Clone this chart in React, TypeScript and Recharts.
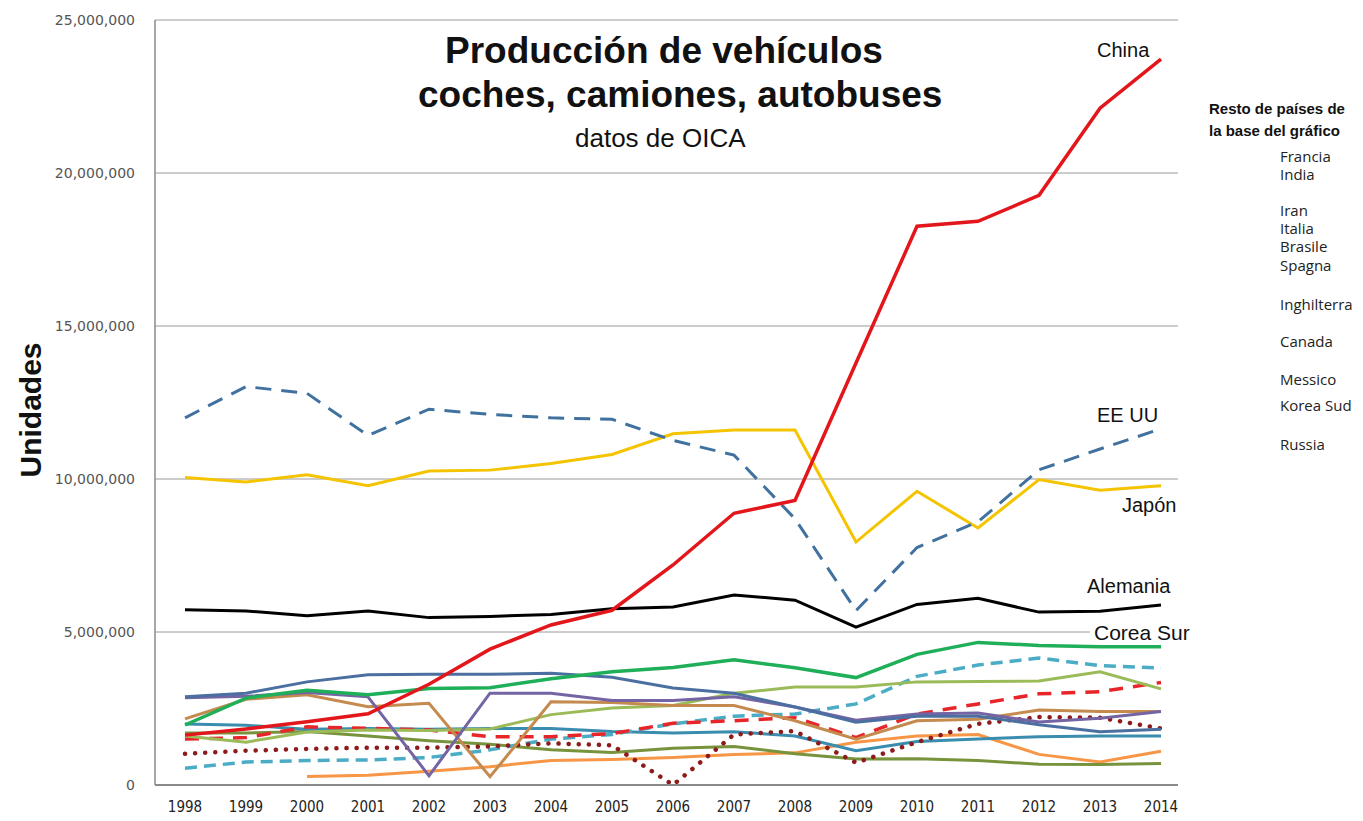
import { LineChart, Line, XAxis, YAxis, CartesianGrid } from "recharts";

// values in millions of units
const years = ["1998", "1999", "2000", "2001", "2002", "2003", "2004", "2005", "2006", "2007", "2008", "2009", "2010", "2011", "2012", "2013", "2014"];

const china = [1.63, 1.83, 2.07, 2.33, 3.29, 4.44, 5.23, 5.71, 7.19, 8.88, 9.3, 13.79, 18.26, 18.42, 19.27, 22.12, 23.72];
const eeuu = [12.0, 13.02, 12.8, 11.42, 12.28, 12.11, 12.0, 11.95, 11.26, 10.78, 8.7, 5.7, 7.76, 8.6, 10.3, 10.98, 11.64];
const japon = [10.05, 9.9, 10.14, 9.78, 10.26, 10.29, 10.51, 10.8, 11.48, 11.6, 11.6, 7.94, 9.6, 8.4, 9.98, 9.63, 9.78];
const alemania = [5.73, 5.69, 5.53, 5.69, 5.47, 5.51, 5.57, 5.76, 5.82, 6.21, 6.04, 5.16, 5.9, 6.1, 5.65, 5.68, 5.88];
const coreaSur = [1.96, 2.84, 3.1, 2.95, 3.15, 3.18, 3.47, 3.7, 3.84, 4.09, 3.83, 3.51, 4.27, 4.66, 4.56, 4.52, 4.52];

const francia = [2.88, 3.0, 3.37, 3.6, 3.62, 3.62, 3.65, 3.52, 3.17, 3.0, 2.55, 2.05, 2.25, 2.25, 1.97, 1.74, 1.82];
const spagna = [2.85, 2.9, 3.02, 2.88, 0.3, 3.0, 3.0, 2.76, 2.76, 2.88, 2.55, 2.12, 2.32, 2.35, 2.06, 2.18, 2.4];
const canada = [2.16, 2.8, 2.95, 2.56, 2.67, 0.27, 2.72, 2.7, 2.6, 2.6, 2.1, 1.5, 2.1, 2.15, 2.45, 2.4, 2.4];
const brasile = [1.6, 1.4, 1.73, 1.8, 1.78, 1.83, 2.3, 2.52, 2.6, 3.0, 3.2, 3.2, 3.37, 3.38, 3.4, 3.7, 3.14];
const italia = [1.7, 1.7, 1.75, 1.6, 1.45, 1.33, 1.15, 1.06, 1.2, 1.26, 1.02, 0.85, 0.86, 0.8, 0.68, 0.67, 0.7];
const inghilterra = [1.99, 1.95, 1.82, 1.85, 1.82, 1.85, 1.85, 1.75, 1.7, 1.74, 1.6, 1.12, 1.42, 1.5, 1.58, 1.6, 1.6];
const messico = [1.5, 1.55, 1.9, 1.85, 1.8, 1.58, 1.58, 1.68, 2.02, 2.1, 2.2, 1.55, 2.32, 2.65, 2.98, 3.05, 3.35];
const russia = [1.02, 1.12, 1.18, 1.22, 1.22, 1.26, 1.36, 1.3, 0.0, 1.65, 1.76, 0.73, 1.4, 2.0, 2.22, 2.2, 1.85];
const india = [0.55, 0.75, 0.8, 0.82, 0.9, 1.15, 1.5, 1.65, 2.0, 2.25, 2.32, 2.65, 3.55, 3.92, 4.15, 3.9, 3.82];
const iran = [null, null, 0.28, 0.32, 0.45, 0.6, 0.8, 0.83, 0.9, 1.0, 1.05, 1.4, 1.6, 1.65, 1.0, 0.75, 1.1];

const yTicks = [0, 5, 10, 15, 20, 25];

const restoLabels = ["Francia", "India", "Iran", "Italia", "Brasile", "Spagna", "Inghilterra", "Canada", "Messico", "Korea Sud", "Russia"];
const restoY = [156, 174, 210, 228, 246, 265, 304, 341, 379, 405, 444];

const data = years.map((year, i) => ({
  year,
  china: china[i],
  eeuu: eeuu[i],
  japon: japon[i],
  alemania: alemania[i],
  coreaSur: coreaSur[i],
  francia: francia[i],
  spagna: spagna[i],
  canada: canada[i],
  brasile: brasile[i],
  italia: italia[i],
  inghilterra: inghilterra[i],
  messico: messico[i],
  russia: russia[i],
  india: india[i],
  iran: iran[i],
}));

const arial = "'Liberation Sans', Arial, sans-serif";

const Label = ({ text, x, y, size, bold, bg }: any) => (
  <div
    style={{
      position: "absolute",
      left: x,
      top: y - size / 2,
      fontFamily: arial,
      fontSize: size,
      lineHeight: `${size}px`,
      fontWeight: bold ? 700 : 400,
      color: "#111",
      whiteSpace: "nowrap",
      background: bg ? "#fff" : "transparent",
      paddingLeft: bg ? 4 : 0,
    }}
  >
    {text}
  </div>
);

export default function App() {
  return (
    <div
      style={{
        position: "absolute",
        left: 0,
        top: 0,
        width: 1363,
        height: 821,
        background: "#fff",
        overflow: "hidden",
      }}
    >
      <LineChart
        width={1363}
        height={821}
        data={data}
        margin={{ top: 20, right: 185, bottom: 6, left: 55 }}
      >
        <CartesianGrid vertical={false} stroke="#9a9a9a" strokeWidth={1} />
        <XAxis
          dataKey="year"
          padding={{ left: 30, right: 17 }}
          axisLine={{ stroke: "#8a8a8a", strokeWidth: 2 }}
          tickLine={false}
          tickSize={0}
          tickMargin={16}
          tick={{
            fill: "#222",
            fontSize: 15,
            fontFamily: "'Liberation Sans Narrow', 'DejaVu Sans Condensed', 'Liberation Sans', sans-serif",
          }}
          interval={0}
        />
        <YAxis
          width={100}
          domain={[0, 25]}
          ticks={yTicks}
          axisLine={{ stroke: "#8a8a8a", strokeWidth: 1.5 }}
          tickLine={false}
          tickSize={0}
          tickMargin={20}
          tick={{ fill: "#555", fontSize: 14, fontFamily: "'DejaVu Sans', Verdana, sans-serif" }}
          tickFormatter={(v: number) => (v * 1000000).toLocaleString("en-US")}
        />
        <Line dataKey="iran" stroke="#F79646" strokeWidth={3} dot={false} isAnimationActive={false} />
        <Line dataKey="italia" stroke="#77933C" strokeWidth={3} dot={false} isAnimationActive={false} />
        <Line dataKey="inghilterra" stroke="#3A8DAE" strokeWidth={3} dot={false} isAnimationActive={false} />
        <Line dataKey="india" stroke="#4BACC6" strokeWidth={3.5} strokeDasharray="12 7" dot={false} isAnimationActive={false} />
        <Line dataKey="russia" stroke="#8E1B1B" strokeWidth={4.5} strokeDasharray="0.1 10" strokeLinecap="round" dot={false} isAnimationActive={false} />
        <Line dataKey="messico" stroke="#E8262A" strokeWidth={3.5} strokeDasharray="14 10" dot={false} isAnimationActive={false} />
        <Line dataKey="brasile" stroke="#9BBB59" strokeWidth={3} dot={false} isAnimationActive={false} />
        <Line dataKey="canada" stroke="#C48A4E" strokeWidth={3} dot={false} isAnimationActive={false} />
        <Line dataKey="spagna" stroke="#7464A4" strokeWidth={3} dot={false} isAnimationActive={false} />
        <Line dataKey="francia" stroke="#4A6FA0" strokeWidth={3} dot={false} isAnimationActive={false} />
        <Line dataKey="coreaSur" stroke="#1FAF58" strokeWidth={3.5} dot={false} isAnimationActive={false} />
        <Line dataKey="alemania" stroke="#000" strokeWidth={3} dot={false} isAnimationActive={false} />
        <Line dataKey="japon" stroke="#F5C400" strokeWidth={3} dot={false} isAnimationActive={false} />
        <Line dataKey="eeuu" stroke="#41729F" strokeWidth={3} strokeDasharray="16 10" dot={false} isAnimationActive={false} />
        <Line dataKey="china" stroke="#E3161B" strokeWidth={3.5} dot={false} isAnimationActive={false} />
      </LineChart>

      <Label text="Producción de vehículos" x={445} y={50} size={37} bold />
      <Label text="coches, camiones, autobuses" x={418} y={94} size={37} bold />
      <Label text="datos de OICA" x={575} y={138} size={26} />

      <Label text="China" x={1097} y={50} size={20} />
      <Label text="EE UU" x={1097} y={415} size={20} />
      <Label text="Japón" x={1122} y={505} size={20} />
      <Label text="Alemania" x={1087} y={586} size={20} />
      <Label text="Corea Sur" x={1090} y={632} size={21} bg />

      <div
        style={{
          position: "absolute",
          left: 31,
          top: 410,
          transform: "translate(-50%, -50%) rotate(-90deg)",
          fontFamily: arial,
          fontSize: 30,
          fontWeight: 700,
          color: "#111",
          whiteSpace: "nowrap",
        }}
      >
        Unidades
      </div>

      <Label text="Resto de países de" x={1209} y={108} size={15} bold />
      <Label text="la base del gráfico" x={1209} y={130} size={15} bold />
      {restoLabels.map((t, i) => (
        <div
          key={t}
          style={{
            position: "absolute",
            left: 1280,
            top: restoY[i] - 8,
            fontFamily: "'Open Sans', sans-serif",
            fontSize: 15,
            lineHeight: "16px",
            color: "#222",
            whiteSpace: "nowrap",
          }}
        >
          {t}
        </div>
      ))}
    </div>
  );
}
